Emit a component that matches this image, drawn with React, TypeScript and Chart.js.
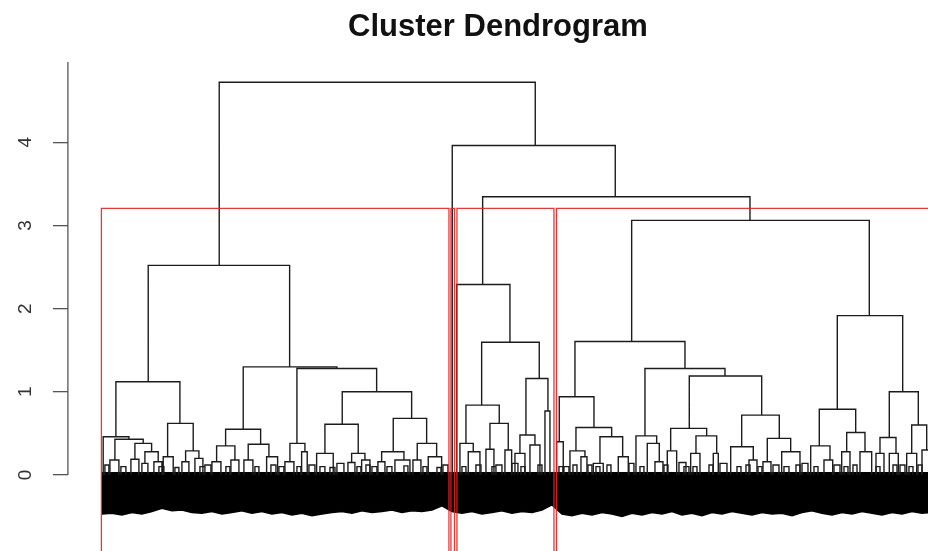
import { useEffect, useRef } from 'react';
import { Chart, registerables } from 'chart.js';

Chart.register(...registerables);

const TITLE = 'Cluster Dendrogram';
const Y_TICKS = [0, 1, 2, 3, 4];
const Y_MIN = -0.761;
const Y_MAX = 4.952;
const AXIS_TOP = 4.964;
const X_MIN = -33;
const X_MAX = 827;
const CUT_HEIGHT = 3.205;
const BOX_BOTTOM = -1.2;

// merges: [left leg x, right leg x, merge height, left child height, right child height]
// x in leaf-order units, heights in dendrogram units (0 = leaf)
const TOP_MERGES = [
  [118.3, 434.3, 4.72, 2.52, 3.96],
  [351.3, 514.3, 3.96, 0, 3.345],
  [381.7, 649, 3.345, 2.29, 3.06],
];

const CLUSTER_A_MERGES = [
  [47.3, 188.7, 2.52, 1.12, 1.3],
  [15, 79, 1.12, 0.46, 0.62],
  [2.3, 28, 0.46, 0, 0.43],
  [14, 42.3, 0.43, 0.18, 0.38],
  [9, 18, 0.18, 0, 0],
  [34, 50.7, 0.38, 0.19, 0.28],
  [30, 38, 0.19, 0, 0],
  [44, 57.3, 0.28, 0.14, 0.16],
  [41, 47, 0.14, 0, 0],
  [53, 61, 0.16, 0, 0],
  [66.7, 92.3, 0.62, 0.22, 0.29],
  [62.3, 72.3, 0.22, 0, 0],
  [84.7, 98, 0.29, 0.16, 0.2],
  [81, 88, 0.16, 0, 0],
  [94, 102, 0.2, 0, 0],
  [142.3, 236, 1.3, 0.55, 1.28],
  [124.7, 159.7, 0.55, 0.35, 0.37],
  [115.7, 134, 0.35, 0.16, 0.18],
  [111, 120, 0.16, 0, 0],
  [130, 138, 0.18, 0, 0],
  [147.3, 168, 0.37, 0.18, 0.22],
  [143, 152, 0.18, 0, 0],
  [165.7, 176.7, 0.22, 0, 0],
  [196, 275.7, 1.28, 0.38, 1.0],
  [189, 204, 0.38, 0.16, 0.28],
  [184, 193, 0.16, 0, 0],
  [200.7, 206.3, 0.28, 0, 0],
  [241.3, 310.7, 1.0, 0.61, 0.68],
  [224, 257.3, 0.61, 0.26, 0.26],
  [215.7, 232.3, 0.26, 0, 0],
  [250.7, 264, 0.26, 0.15, 0.18],
  [247, 254, 0.15, 0, 0],
  [260.7, 269, 0.18, 0, 0],
  [292.3, 325.7, 0.68, 0.28, 0.38],
  [280.7, 303, 0.28, 0.16, 0.18],
  [277, 284, 0.16, 0, 0],
  [294, 309, 0.18, 0, 0],
  [316.3, 335.7, 0.38, 0.18, 0.22],
  [312, 320, 0.18, 0, 0],
  [327.3, 340.7, 0.22, 0, 0],
];

const CLUSTER_C_MERGES = [
  [355.7, 409, 2.29, 0, 1.595],
  [380.7, 438.3, 1.595, 0.84, 1.16],
  [365, 398.3, 0.84, 0.38, 0.62],
  [359, 372.3, 0.38, 0, 0.28],
  [367.3, 379, 0.28, 0, 0],
  [389, 407.3, 0.62, 0.31, 0.3],
  [385, 393, 0.31, 0, 0],
  [404, 410.7, 0.3, 0, 0],
  [425, 447, 1.16, 0.48, 0.77],
  [419, 434, 0.48, 0.26, 0.36],
  [414, 424, 0.26, 0, 0],
  [429, 439, 0.36, 0, 0],
  [444, 449, 0.77, 0, 0],
];

const CLUSTER_D_MERGES = [
  [530.7, 768.3, 3.06, 1.605, 1.915],
  [474, 584, 1.605, 0.94, 1.28],
  [458.3, 493, 0.94, 0.4, 0.57],
  [455.7, 462.3, 0.4, 0, 0],
  [475, 510.7, 0.57, 0.29, 0.46],
  [469, 484, 0.29, 0, 0.22],
  [480, 486, 0.22, 0, 0],
  [499, 521.7, 0.46, 0.14, 0.22],
  [492.3, 502.3, 0.14, 0, 0],
  [517.3, 527.3, 0.22, 0, 0],
  [544, 624, 1.28, 0.47, 1.19],
  [535, 555.7, 0.47, 0, 0.38],
  [546.3, 558.3, 0.38, 0, 0.16],
  [554, 562, 0.16, 0, 0],
  [588.3, 660.7, 1.19, 0.56, 0.72],
  [569.7, 605.7, 0.56, 0.29, 0.47],
  [566.3, 575.7, 0.29, 0, 0],
  [595, 615.7, 0.47, 0.26, 0.26],
  [589.7, 599, 0.26, 0, 0],
  [612.3, 617.3, 0.26, 0, 0],
  [640.7, 678.3, 0.72, 0.34, 0.44],
  [629.7, 652.3, 0.34, 0, 0.18],
  [648, 656, 0.18, 0, 0],
  [666.3, 689.7, 0.44, 0.16, 0.28],
  [662, 670, 0.16, 0, 0],
  [680.7, 699, 0.28, 0, 0],
  [736.3, 801.7, 1.915, 0.79, 1.0],
  [718.3, 754.7, 0.79, 0.35, 0.51],
  [709.7, 729, 0.35, 0, 0.18],
  [723, 731.7, 0.18, 0, 0],
  [745.7, 764, 0.51, 0.28, 0.28],
  [740.7, 749, 0.28, 0, 0],
  [759, 770.7, 0.28, 0, 0],
  [788.3, 817.3, 1.0, 0.45, 0.6],
  [779, 795, 0.45, 0.26, 0.26],
  [775, 783, 0.26, 0, 0],
  [788.3, 797.3, 0.26, 0, 0],
  [810.7, 825.7, 0.6, 0.26, 0.3],
  [805.7, 815.7, 0.26, 0, 0],
  [821, 831, 0.3, 0, 0],
];

// small leaf-level brackets: [left x, right x, height]
const LEAF_TUFTS = [
  [4, 8, 0.12], [20, 25, 0.1], [58, 63, 0.1], [74, 78, 0.09], [99, 104, 0.1],
  [104, 110, 0.12], [125, 129, 0.1], [154, 158, 0.1], [170, 175, 0.12], [178, 183, 0.1],
  [196, 200, 0.1], [208, 214, 0.12], [219, 224, 0.1], [229, 234, 0.09], [236, 243, 0.14],
  [256, 260, 0.1], [265, 269, 0.12], [271, 276, 0.1], [286, 291, 0.1], [303, 307, 0.11],
  [322, 326, 0.1], [336, 340, 0.09], [342, 347, 0.12], [361, 365, 0.1], [375, 380, 0.12],
  [391, 395, 0.1], [395, 401, 0.12], [411, 417, 0.14], [420, 424, 0.1], [437, 441, 0.12],
  [458, 462, 0.1], [463, 468, 0.1], [472, 476, 0.12], [487, 491, 0.12], [495, 499, 0.1],
  [506, 510, 0.12], [528, 533, 0.14], [539, 543, 0.1], [563, 567, 0.12], [578, 585, 0.15],
  [583, 588, 0.1], [592, 596, 0.1], [608, 612, 0.12], [619, 626, 0.14], [636, 640, 0.1],
  [645, 649, 0.12], [657, 661, 0.1], [672, 678, 0.12], [683, 688, 0.1], [695, 699, 0.12],
  [701, 707, 0.14], [713, 717, 0.1], [733, 739, 0.12], [743, 747, 0.1], [752, 756, 0.12],
  [775, 779, 0.1], [792, 796, 0.12], [799, 804, 0.12], [808, 812, 0.1], [817, 821, 0.12],
  [833, 838, 0.1],
];

// solid mass of leaf labels below the tree
const BAND_TOP = 0.03;
const BAND_X = [
  1, 11, 21, 31, 41, 51, 61, 71, 81, 91, 101, 111, 121, 131, 141, 151, 161, 171, 181, 191,
  201, 211, 221, 231, 241, 251, 261, 271, 281, 291, 301, 311, 321, 331, 341, 351, 361, 371, 381, 391,
  401, 411, 421, 431, 441, 451, 461, 471, 481, 491, 501, 511, 521, 531, 541, 551, 561, 571, 581, 591,
  601, 611, 621, 631, 641, 651, 661, 671, 681, 691, 701, 711, 721, 731, 741, 751, 761, 771, 781, 791,
  801, 811, 821, 831,
];
const BAND_BOTTOM = [
  -0.47, -0.46, -0.48, -0.45, -0.47, -0.44, -0.4, -0.43, -0.42, -0.45, -0.46, -0.44, -0.47, -0.45, -0.43, -0.46, -0.44, -0.47, -0.45, -0.48,
  -0.46, -0.49, -0.47, -0.45, -0.44, -0.46, -0.43, -0.45, -0.44, -0.42, -0.45, -0.43, -0.44, -0.42, -0.37, -0.44, -0.46, -0.44, -0.47, -0.45,
  -0.43, -0.46, -0.44, -0.45, -0.42, -0.36, -0.47, -0.49, -0.46, -0.48, -0.45, -0.47, -0.5, -0.46, -0.48, -0.45, -0.47, -0.44, -0.48, -0.46,
  -0.49, -0.45, -0.47, -0.44, -0.46, -0.48, -0.45, -0.47, -0.46, -0.49, -0.45, -0.43, -0.46, -0.48, -0.45, -0.47, -0.44, -0.46, -0.48, -0.45,
  -0.47, -0.44, -0.46, -0.45,
];

// rect.hclust boxes: [left x, right x]
const CLUSTER_BOXES = [
  [0.5, 348],
  [350, 353.5],
  [356, 453],
  [455.5, 900],
];

type Pt = { x: number; y: number | null };

function mergeSegments(merges: number[][]): Pt[] {
  const pts: Pt[] = [];
  for (const [x1, x2, h, h1, h2] of merges) {
    pts.push({ x: x1, y: h1 }, { x: x1, y: h }, { x: x2, y: h }, { x: x2, y: h2 }, { x: x2, y: null });
  }
  return pts;
}

function tuftSegments(tufts: number[][]): Pt[] {
  const pts: Pt[] = [];
  for (const [x1, x2, h] of tufts) {
    pts.push({ x: x1, y: 0 }, { x: x1, y: h }, { x: x2, y: h }, { x: x2, y: 0 }, { x: x2, y: null });
  }
  return pts;
}

function boxSegments(boxes: number[][]): Pt[] {
  const pts: Pt[] = [];
  for (const [x1, x2] of boxes) {
    pts.push(
      { x: x1, y: BOX_BOTTOM },
      { x: x1, y: CUT_HEIGHT },
      { x: x2, y: CUT_HEIGHT },
      { x: x2, y: BOX_BOTTOM },
      { x: x2, y: null },
    );
  }
  return pts;
}

const FONT = "'Liberation Sans', Arial, Helvetica, sans-serif";

export default function App() {
  const ref = useRef<HTMLCanvasElement | null>(null);

  useEffect(() => {
    if (!ref.current) return;
    const treeColor = '#1c1c1c';
    const common = { pointRadius: 0, pointHoverRadius: 0, tension: 0, spanGaps: false };
    const chart = new Chart(ref.current, {
      type: 'line',
      data: {
        datasets: [
          {
            ...common,
            data: boxSegments(CLUSTER_BOXES) as any,
            borderColor: 'rgba(225,35,35,0.9)',
            borderWidth: 1.3,
            fill: false,
            clip: false as any,
          },
          {
            ...common,
            data: [
              { x: X_MIN, y: 0 },
              { x: X_MIN, y: AXIS_TOP },
            ] as any,
            borderColor: '#555',
            borderWidth: 1.3,
            fill: false,
            clip: false as any,
          },
          {
            ...common,
            data: mergeSegments([...TOP_MERGES, ...CLUSTER_A_MERGES, ...CLUSTER_C_MERGES, ...CLUSTER_D_MERGES]) as any,
            borderColor: treeColor,
            borderWidth: 1.4,
            fill: false,
          },
          {
            ...common,
            data: tuftSegments(LEAF_TUFTS) as any,
            borderColor: treeColor,
            borderWidth: 1.4,
            fill: false,
          },
          {
            ...common,
            data: BAND_X.map((x) => ({ x, y: BAND_TOP })) as any,
            borderColor: '#000',
            borderWidth: 1,
            fill: false,
          },
          {
            ...common,
            data: BAND_X.map((x, i) => ({ x, y: BAND_BOTTOM[i] })) as any,
            borderColor: '#000',
            borderWidth: 1.5,
            backgroundColor: '#000',
            fill: '-1',
          },
        ],
      },
      options: {
        animation: false,
        responsive: true,
        maintainAspectRatio: false,
        events: [],
        layout: { padding: { left: 4.7, right: 0, top: 0, bottom: 0 } },
        plugins: {
          legend: { display: false },
          tooltip: { enabled: false },
          title: {
            display: true,
            text: TITLE,
            color: '#111',
            fullSize: false,
            font: { family: FONT, size: 31, weight: 'bold', lineHeight: 1.2 },
            padding: { top: 8.7, bottom: 17.1 },
          },
        },
        scales: {
          x: {
            type: 'linear',
            display: false,
            min: X_MIN,
            max: X_MAX,
          },
          y: {
            type: 'linear',
            position: 'left',
            min: Y_MIN,
            max: Y_MAX,
            afterBuildTicks: (scale: any) => {
              scale.ticks = Y_TICKS.map((v) => ({ value: v }));
            },
            border: { display: false },
            grid: {
              display: true,
              drawOnChartArea: false,
              drawTicks: true,
              tickLength: 15,
              color: '#555',
              lineWidth: 1.3,
            },
            ticks: {
              display: true,
              minRotation: 90,
              maxRotation: 90,
              align: 'end',
              crossAlign: 'center',
              padding: 12.7,
              color: '#333',
              font: { family: FONT, size: 19 },
              callback: (v: any) => String(v),
            },
          },
        },
      } as any,
    });
    return () => chart.destroy();
  }, []);

  return (
    <div style={{ position: 'absolute', left: 0, top: 0, width: 928, height: 551, background: '#fff' }}>
      <canvas ref={ref} />
    </div>
  );
}
